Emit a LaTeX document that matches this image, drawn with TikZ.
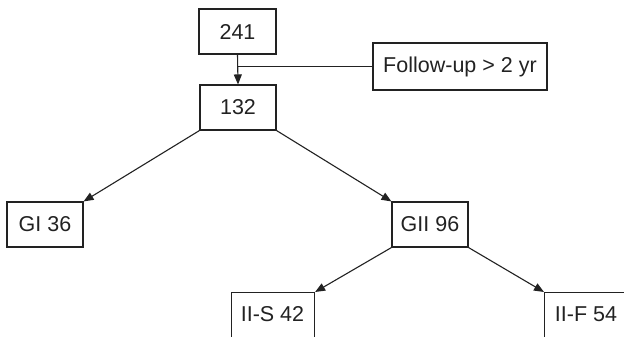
\documentclass[tikz,border=0pt]{standalone}
\usepackage{fontspec}
\setmainfont{Liberation Sans}
\usetikzlibrary{arrows.meta}
\definecolor{ln}{HTML}{222222}
\tikzset{
  box/.style={draw=ln, line width=1.1pt, fill=white, inner sep=0pt, text=ln, font=\fontsize{21.5}{24}\selectfont},
  arr/.style={draw=ln, line width=1.1pt, -{Triangle[length=10pt,width=8pt]}},
}
\begin{document}
\begin{tikzpicture}[x=1pt,y=-1pt]
\clip (0,0) rectangle (624,337);
\fill[white] (0,0) rectangle (624,337);
\node[box, minimum width=77pt, minimum height=45pt] (a) at (237.5,31.5) {241};
\node[box, minimum width=76pt, minimum height=45pt] (b) at (238,107.5) {132};
\node[box, minimum width=174pt, minimum height=47pt] (f) at (460,66.5) {Follow-up > 2 yr};
\node[box, minimum width=76pt, minimum height=45pt] (g1) at (45,224.5) {GI 36};
\node[box, minimum width=76pt, minimum height=45pt] (g2) at (430,224.5) {GII 96};
\node[box, minimum width=83pt, minimum height=70pt, anchor=north west] (s) at (231,292) {};
\node[anchor=center, text=ln, font=\fontsize{21.5}{24}\selectfont] (st) at (272.5,314.5) {II-S 42};
\node[box, minimum width=84pt, minimum height=70pt, anchor=north west] (fl) at (544,292) {};
\node[anchor=center, text=ln, font=\fontsize{21.5}{24}\selectfont] (ft) at (586,314.5) {II-F 54};
\coordinate (j) at (a.south |- f.west);
\draw[ln, line width=1.1pt] (j) -- (f.west);
\draw[arr] (a.south) -- (b.north);
\draw[arr] (b.south west) -- (g1.north east);
\draw[arr] (b.south east) -- (g2.north west);
\draw[arr] (g2.south west) -- (s.north east);
\draw[arr] (g2.south east) -- (fl.north west);
\end{tikzpicture}
\end{document}
